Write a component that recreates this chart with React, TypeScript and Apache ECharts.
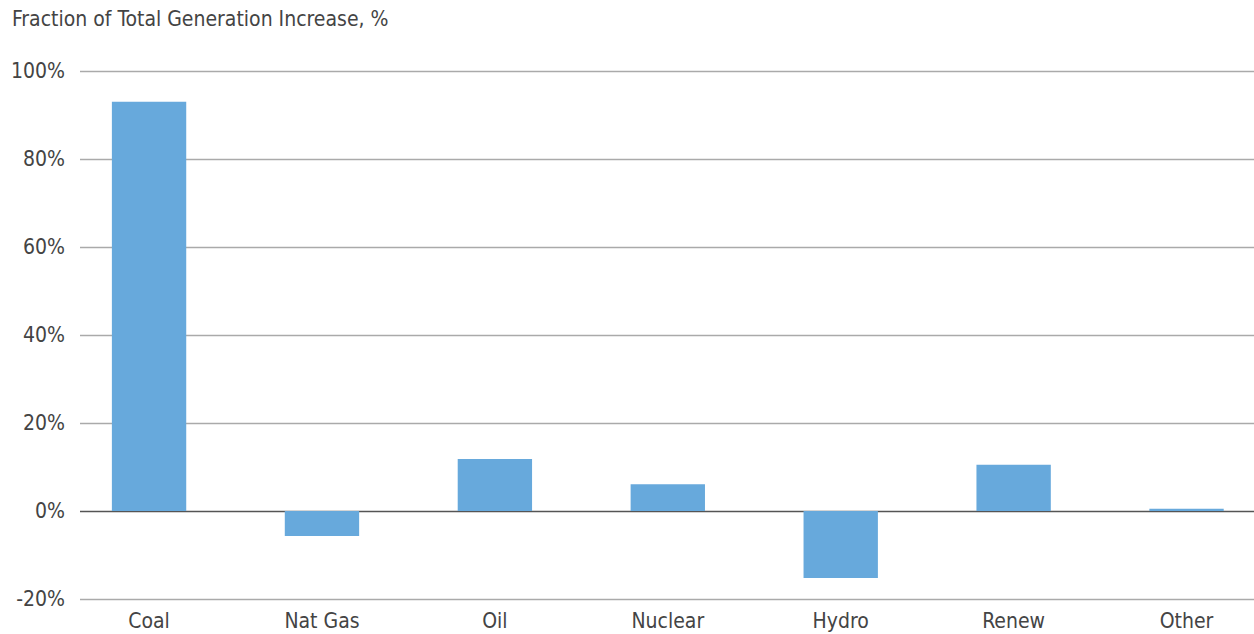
import React, { useEffect, useRef } from "react";
import * as echarts from "echarts";

const categories = ["Coal", "Nat Gas", "Oil", "Nuclear", "Hydro", "Renew", "Other"];
const values = [93, -5.7, 11.8, 6.1, -15.2, 10.5, 0.5];
const yTicks = { min: -20, max: 100, interval: 20 };
const title = "Fraction of Total Generation Increase, %";

const FONT = "'DejaVu Sans Condensed', 'Liberation Sans Narrow', sans-serif";
const INNER_W = 1273;

export default function App() {
  const ref = useRef<HTMLDivElement>(null);
  useEffect(() => {
    if (!ref.current) return;
    const chart = echarts.init(ref.current, null, { renderer: "svg" });
    chart.setOption({
      animation: false,
      graphic: [
        {
          type: "text",
          left: 12,
          top: 8,
          style: { text: title, font: `21px ${FONT}`, fill: "#444" },
        },
      ],
      grid: [
        { left: 80, right: INNER_W - 1254, top: 71, bottom: 35, containLabel: false },
        { left: 62.6, right: 0, top: 71, bottom: 35, containLabel: false },
      ],
      xAxis: [
        {
          gridIndex: 0,
          type: "value",
          show: false,
        },
        {
          gridIndex: 1,
          type: "category",
          data: categories,
          axisLine: { show: false },
          axisTick: { show: false },
          axisLabel: {
            color: "#444",
            fontFamily: FONT,
            fontSize: 21,
            margin: 11,
          },
        },
      ],
      yAxis: [
        {
          gridIndex: 0,
          type: "value",
          min: yTicks.min,
          max: yTicks.max,
          interval: yTicks.interval,
          axisLine: { show: false },
          axisTick: { show: false },
          splitLine: {
            lineStyle: {
              color: ["#aaa", "#555", "#aaa", "#aaa", "#aaa", "#aaa", "#aaa"],
              width: 1.3,
            },
          },
          axisLabel: {
            color: "#444",
            fontFamily: FONT,
            fontSize: 21,
            margin: 15,
            formatter: (v: number) => `${v}%`,
          },
        },
        {
          gridIndex: 1,
          type: "value",
          min: yTicks.min,
          max: yTicks.max,
          interval: yTicks.interval,
          show: false,
          splitLine: { show: false },
        },
      ],
      series: [
        {
          type: "bar",
          xAxisIndex: 1,
          yAxisIndex: 1,
          data: values,
          barWidth: "43%",
          itemStyle: { color: "#67A9DC" },
        },
      ],
    });
    return () => chart.dispose();
  }, []);
  return (
    <div style={{ width: 1254, height: 634, position: "absolute", left: 0, top: 0, overflow: "hidden" }}>
      <div ref={ref} style={{ width: INNER_W, height: 634 }} />
    </div>
  );
}
